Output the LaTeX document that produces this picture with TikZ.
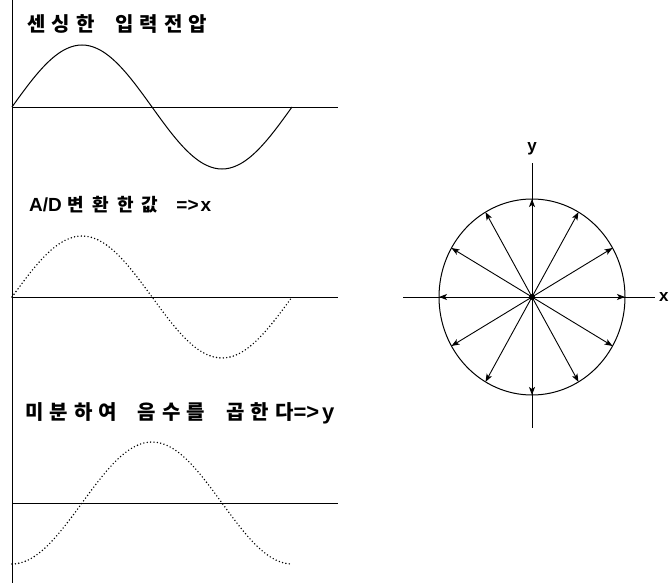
\documentclass[tikz,border=0pt]{standalone}
\usepackage{fontspec}
\newfontfamily\krfont[LetterSpace=30]{Noto Sans CJK KR}
\newfontfamily\krwide[LetterSpace=45]{Noto Sans CJK KR}
\newfontfamily\latfont{Liberation Sans}
\usetikzlibrary{arrows.meta,positioning,calc}

\begin{document}
\begin{tikzpicture}[x=1pt, y=-1pt,
  title/.style={font=\krfont\bfseries\fontsize{20}{22}\selectfont, inner sep=0pt, anchor=west},
  axlabel/.style={font=\latfont\bfseries\fontsize{17}{18}\selectfont, inner sep=0pt},
  axis/.style={line width=0.9pt},
  wave/.style={line width=1pt},
  dotwave/.style={line width=1.6pt, line cap=round, dash pattern=on 0pt off 3.4pt},
  vec/.style={line width=0.9pt, -{Stealth[length=8pt, width=6pt, inset=2pt]}}]
  \useasboundingbox (0,0) rectangle (669,583);

  % Left frame line
  \coordinate (ltop) at (12,0);
  \coordinate (lbot) at (12,583);
  \draw[axis] (ltop) -- (lbot);

  % Sensed input voltage
  \node[title] (t1) at (27,24) {센싱한 \ 입력전압};
  \coordinate (a1s) at (12,107);
  \coordinate (a1e) at (338,107);
  \draw[axis] (a1s) -- (a1e);
  \draw[wave] plot[domain=0:360, samples=73, smooth] ({12+\x*0.77778}, {107-62*sin(\x)});

  % A/D converted value
  \node[title, font=\latfont\bfseries\fontsize{19}{20}\selectfont] (t2) at (29,205)
    {A/D\hspace{6pt}{\krwide\fontsize{18}{20}\selectfont 변환한값}\hspace{18pt}=>\hspace{2pt}x};
  \coordinate (a2s) at (12,297);
  \coordinate (a2e) at (338,297);
  \draw[axis] (a2s) -- (a2e);
  \draw[dotwave] plot[domain=0:360, samples=73, smooth] ({12+\x*0.77778}, {297-61*sin(\x)});

  % Differentiated, times -1
  \node[title] (t3) at (25,413)
    {미분하여 \ 음수를 \ 곱한다{\latfont\fontsize{22}{22}\selectfont =>\hspace{3pt}y}};
  \coordinate (a3s) at (12,503);
  \coordinate (a3e) at (338,503);
  \draw[axis] (a3s) -- (a3e);
  \draw[dotwave] plot[domain=0:360, samples=73, smooth] ({12+\x*0.77778}, {503+61*cos(\x)});

  % Circle with vectors
  \node[circle, fill, inner sep=0pt, minimum size=6pt] (o) at (532,297) {};
  \coordinate (xl) at (403,297);
  \coordinate (xr) at (655,297);
  \coordinate (yt) at (532,163);
  \coordinate (yb) at (532,428);
  \draw[axis] (xl) -- (xr);
  \draw[axis] (yt) -- (yb);
  \node[axlabel, right=4pt of xr] (xlab) {x};
  \node[axlabel, above=8pt of yt] (ylab) {y};
  \draw[line width=1pt] (o) ellipse [x radius=93, y radius=98];
  \foreach \a in {0,30,...,330} {
    \coordinate (p\a) at ($(o)+(\a:93 and 98)$);
    \draw[vec] (o.center) -- (p\a);
  }
\end{tikzpicture}
\end{document}
